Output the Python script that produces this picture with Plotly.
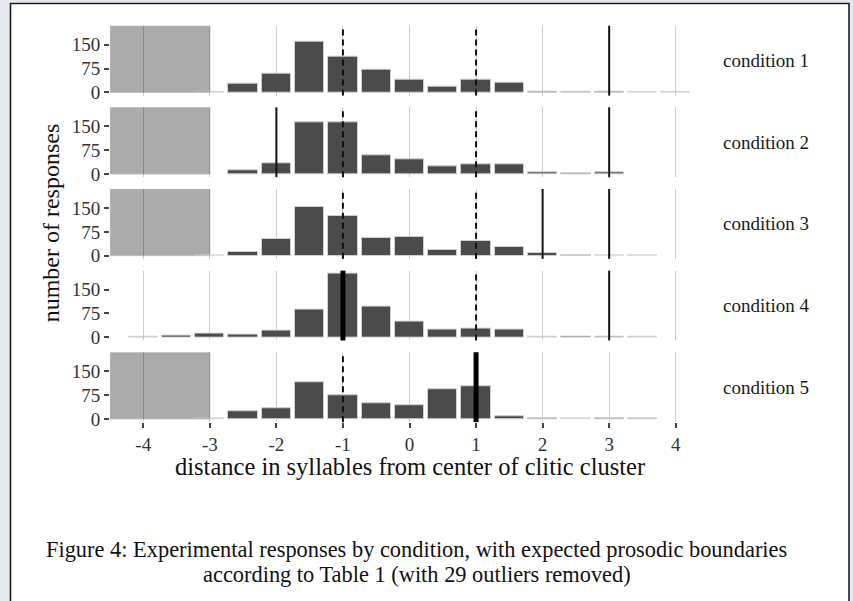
import plotly.graph_objects as go

# ---- data -----------------------------------------------------------------
conditions = ["condition 1", "condition 2", "condition 3", "condition 4", "condition 5"]

# bin centres (syllables from the centre of the clitic cluster)
bin_centers = [-4.0, -3.5, -3.0, -2.5, -2.0, -1.5, -1.0, -0.5, 0.0,
               0.5, 1.0, 1.5, 2.0, 2.5, 3.0, 3.5, 4.0]

counts_c1 = [None, None, 1, 27, 58, 161, 111, 70, 39, 19, 41, 31, 3, 2, 3, 1, 1]
counts_c2 = [None, None, None, 13, 35, 164, 164, 58, 47, 24, 31, 31, 5, 3, 6, None, None]
counts_c3 = [None, None, 1, 13, 54, 154, 125, 55, 59, 19, 47, 28, 10, 3, 1, 1, None]
counts_c4 = [1, 4, 13, 10, 22, 86, 200, 96, 49, 23, 28, 23, 1, 3, 2, 1, None]
counts_c5 = [None, None, 1, 23, 34, 114, 76, 51, 42, 94, 104, 10, 3, 1, 3, 2, None]
counts = [counts_c1, counts_c2, counts_c3, counts_c4, counts_c5]

# expected prosodic boundaries: (position, kind)
boundaries_c1 = [(-1, "dashed"), (1, "dashed"), (3, "solid")]
boundaries_c2 = [(-2, "solid"), (-1, "dashed"), (1, "dashed"), (3, "solid")]
boundaries_c3 = [(-1, "dashed"), (1, "dashed"), (2, "solid"), (3, "solid")]
boundaries_c4 = [(-1, "thick"), (1, "dashed"), (3, "solid")]
boundaries_c5 = [(-1, "dashed"), (1, "thick")]
boundaries = [boundaries_c1, boundaries_c2, boundaries_c3, boundaries_c4, boundaries_c5]

# region outside the sentence (shaded) per condition
shaded = [True, True, True, False, True]
shade_span = (-4.5, -3.0)

x_ticks = [-4, -3, -2, -1, 0, 1, 2, 3, 4]
x_tick_labels = ["-4", "-3", "-2", "-1", "0", "1", "2", "3", "4"]
y_ticks = [0, 75, 150]
y_tick_labels = ["0", "75", "150"]

# ---- layout constants -----------------------------------------------------
W, H = 853, 601
X_RANGE = [-4.5, 4.5]
Y_RANGE = [-10, 210]
PANEL_LEFT, PANEL_RIGHT = 110, 709
PANEL_TOP0, PANEL_STEP, PANEL_H = 26, 82.6, 70.7
SERIF = "Liberation Serif, Times New Roman, serif"

def px_x(v):
    return v / W

def px_y(v):
    return 1 - v / H

line_styles = {
    "solid": dict(color="#111111", width=2, dash="solid"),
    "dashed": dict(color="#111111", width=2, dash="6px,4px"),
    "thick": dict(color="#000000", width=5, dash="solid"),
}

fig = go.Figure()
shapes = []
annotations = []

# white page with a dark frame
shapes.append(dict(type="rect", xref="paper", yref="paper",
                   x0=px_x(10.5), x1=px_x(849), y0=-0.05, y1=px_y(3.5),
                   fillcolor="white", line=dict(color="#1c1c1c", width=1.6),
                   layer="below"))

for i, (name, vals) in enumerate(zip(conditions, counts)):
    k = "" if i == 0 else str(i + 1)
    xa, ya = "x" + k, "y" + k
    top = PANEL_TOP0 + PANEL_STEP * i
    bottom = top + PANEL_H
    last = i == len(conditions) - 1

    # very small counts render as faint hairlines
    opac = [1.0 if v is None else min(1.0, 0.42 + v / 5.0) for v in vals]
    fig.add_trace(go.Bar(
        x=bin_centers, y=vals, width=0.44, xaxis=xa, yaxis=ya,
        marker=dict(color="#4b4b4b", opacity=opac,
                    line=dict(color="#cfcfcf", width=1)),
        showlegend=False, hoverinfo="skip"))

    fig.layout["xaxis" + k] = dict(
        domain=[px_x(PANEL_LEFT), px_x(PANEL_RIGHT)], range=X_RANGE,
        anchor=ya, matches=None if i == 0 else "x",
        showgrid=True, gridcolor="rgba(0,0,0,0.2)", gridwidth=1.2,
        tickvals=x_ticks, ticktext=x_tick_labels,
        showticklabels=last, ticks="outside" if last else "",
        ticklen=5, tickwidth=1.5, tickcolor="#444",
        tickfont=dict(family=SERIF, size=19, color="#333"),
        zeroline=False, showline=False, fixedrange=True)
    fig.layout["yaxis" + k] = dict(
        domain=[px_y(bottom), px_y(top)], range=Y_RANGE, anchor=xa,
        showgrid=False, zeroline=False, showline=False,
        tickvals=y_ticks, ticktext=y_tick_labels,
        ticks="outside", ticklen=5, tickwidth=1.5, tickcolor="#444",
        tickfont=dict(family=SERIF, size=19, color="#333"), fixedrange=True)

    if shaded[i]:
        shapes.append(dict(type="rect", xref=xa, yref=ya,
                           x0=shade_span[0], x1=shade_span[1], y0=0, y1=Y_RANGE[1],
                           fillcolor="#ababab", line=dict(color="#bcbcbc", width=1),
                           layer="below"))

    for pos, kind in boundaries[i]:
        shapes.append(dict(type="line", xref=xa, yref=ya + " domain",
                           x0=pos, x1=pos, y0=0, y1=1,
                           line=line_styles[kind], layer="above"))

    annotations.append(dict(text=name, xref="paper", yref="paper",
                            x=px_x(766), y=px_y((top + bottom) / 2),
                            xanchor="center", yanchor="middle", showarrow=False,
                            font=dict(family=SERIF, size=19, color="#1a1a1a")))

# axis titles
annotations.append(dict(text="distance in syllables from center of clitic cluster",
                        xref="paper", yref="paper", x=px_x(410), y=px_y(472),
                        xanchor="center", yanchor="middle", showarrow=False,
                        font=dict(family=SERIF, size=24.5, color="#111")))
annotations.append(dict(text="number of responses", textangle=-90,
                        xref="paper", yref="paper", x=px_x(51), y=px_y(226),
                        xanchor="center", yanchor="middle", showarrow=False,
                        font=dict(family=SERIF, size=24, color="#111")))

# figure caption
annotations.append(dict(text="Figure 4: Experimental responses by condition, with expected prosodic boundaries",
                        xref="paper", yref="paper", x=px_x(416), y=px_y(556),
                        xanchor="center", yanchor="middle", showarrow=False,
                        font=dict(family=SERIF, size=22.4, color="#111")))
annotations.append(dict(text="according to Table 1 (with 29 outliers removed)",
                        xref="paper", yref="paper", x=px_x(417), y=px_y(581),
                        xanchor="center", yanchor="middle", showarrow=False,
                        font=dict(family=SERIF, size=22.4, color="#111")))

fig.update_layout(width=W, height=H, autosize=False,
                  margin=dict(l=0, r=0, t=0, b=0),
                  paper_bgcolor="#e4e8ef", plot_bgcolor="rgba(0,0,0,0)",
                  bargap=0, shapes=shapes, annotations=annotations,
                  showlegend=False)

fig.write_html("out.html")
